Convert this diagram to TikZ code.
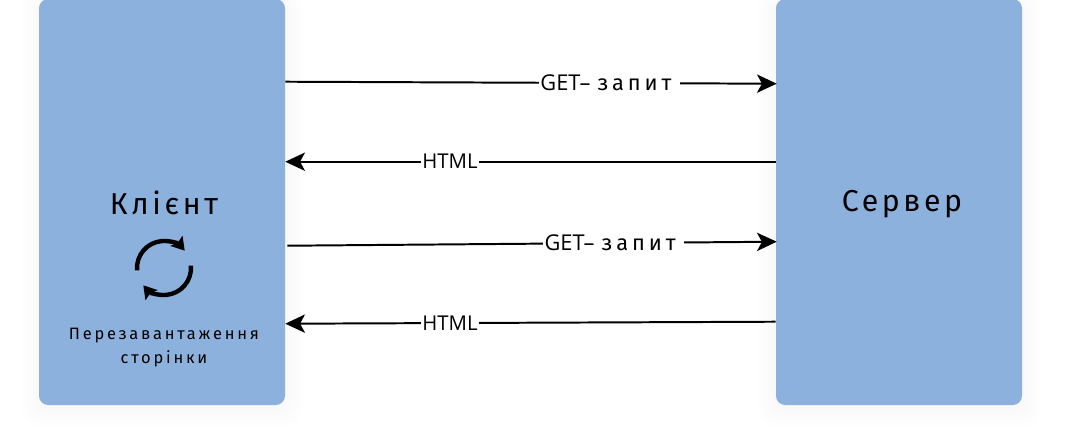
\documentclass[tikz,border=0pt]{standalone}
\usepackage{fontspec}
\setmainfont{Open Sans}
\newfontfamily\wideface[LetterSpace=12]{Fira Sans}
\newfontfamily\smallface[LetterSpace=17]{Fira Sans}
\newfontfamily\getface[LetterSpace=18]{Fira Sans}
\usetikzlibrary{arrows.meta,calc}
\usepackage{xcolor}
\definecolor{boxblue}{RGB}{141,177,221}
\tikzset{
    hostbox/.style={fill=boxblue, rounded corners=6.5pt, minimum width=246*0.025cm, minimum height=406*0.025cm, inner sep=0pt},
    glowbox/.style={fill=black, opacity=0.005, rounded corners=12pt, inner sep=0pt},
    link/.style={line width=1.4pt, -{Stealth[length=14pt,width=13pt,inset=3.5pt]}},
    linklabel/.style={fill=white, font=\fontsize{14.5}{16}\selectfont, inner xsep=1pt, inner ysep=1pt},
    refreshline/.style={line width=3.1pt, -{Stealth[length=9pt,width=11pt,inset=1.5pt]}},
}

\begin{document}
\begin{tikzpicture}[x=0.025cm, y=-0.025cm]
    \useasboundingbox (0,0) rectangle (1067,439);

    % Soft shadows
    \foreach \grow in {0,3,...,18} {
        \node[glowbox, minimum width=(246+2*\grow)*0.025cm, minimum height=(406+2*\grow)*0.025cm] at (162,206) {};
        \node[glowbox, minimum width=(246+2*\grow)*0.025cm, minimum height=(406+2*\grow)*0.025cm] at (899,206) {};
    }

    % Client and server boxes
    \node[hostbox] (client) at (162,202) {};
    \node[hostbox] (server) at (899,202) {};

    % Box titles
    \node[font=\wideface\fontsize{21.5}{24}\selectfont] (clientname) at (164,203) {Клієнт};
    \node[font=\wideface\fontsize{21.5}{24}\selectfont] (servername) at (902,204) {Сервер};
    \node[font=\smallface\fontsize{11.7}{17}\selectfont, align=center] (reloadtext) at (164,348) {Перезавантаження\\сторінки};

    % Refresh icon
    \coordinate (refresh) at (164,268);
    \draw[refreshline] ($(refresh)+(175:27)$) arc[start angle=175, end angle=320, radius=27];
    \draw[refreshline] ($(refresh)+(-5:27)$) arc[start angle=-5, end angle=140, radius=27];

    % Requests and responses
    \draw[link] ($(client.north east)+(0,83)$) -- node[linklabel, pos=0.66] (get1) {\fontsize{15.5}{16}\selectfont GET–\kern5pt{\getface\fontsize{15.5}{16}\selectfont запит}\,\,} ($(server.north west)+(1,85)$);
    \draw[link] ($(server.north west)+(0,163)$) -- node[linklabel, pos=0.664] (html1) {HTML} ($(client.north east)+(0,163)$);
    \draw[link] ($(client.north east)+(2,247)$) -- node[linklabel, pos=0.667] (get2) {\fontsize{15.5}{16}\selectfont GET–\kern5pt{\getface\fontsize{15.5}{16}\selectfont запит}\,\,} ($(server.north west)+(1,243)$);
    \draw[link] ($(server.north west)+(0,323)$) -- node[linklabel, pos=0.664] (html2) {HTML} ($(client.north east)+(0,325)$);
\end{tikzpicture}
\end{document}
